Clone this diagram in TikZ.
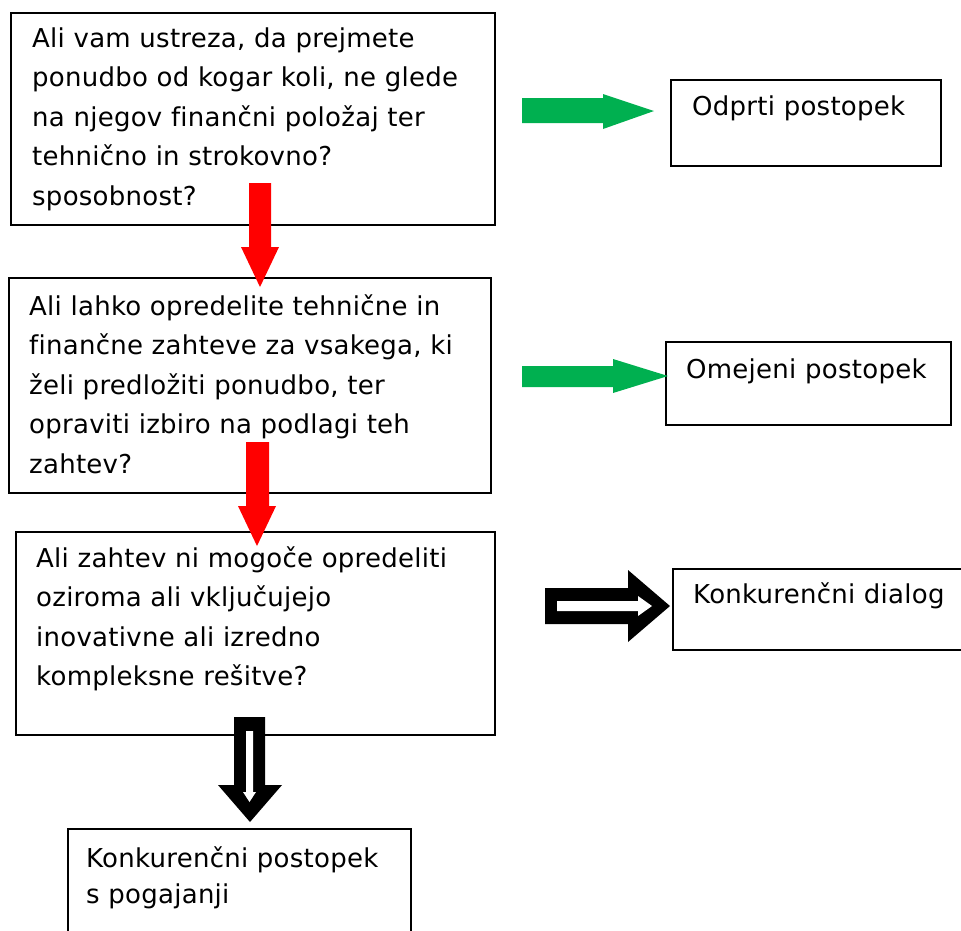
\documentclass[tikz,border=0pt]{standalone}
\usepackage{fontspec}
\setmainfont{DejaVu Sans}[LetterSpace=1.0,Ligatures=NoCommon]
\definecolor{okgreen}{HTML}{00B050}
\definecolor{alertred}{HTML}{FF0000}
\begin{document}
\begin{tikzpicture}[x=1pt,y=-1pt,
  box/.style={draw=black,line width=1.8pt,inner sep=0pt,anchor=north west},
  txt/.style={inner sep=0pt,anchor=base west,align=left,text width=470pt,
    font=\fontsize{26}{39.5}\selectfont},
  greenarrow/.style={fill=okgreen},
  redarrow/.style={fill=alertred}]
\useasboundingbox (0,0) rectangle (961,930);
\clip (0,0) rectangle (961,930);

% question boxes (left column)
\node[box,minimum width=484pt,minimum height=212pt] (q1) at (10,12) {};
\node[box,minimum width=482pt,minimum height=215pt] (q2) at (8,277) {};
\node[box,minimum width=479pt,minimum height=203pt] (q3) at (15,531) {};
\node[box,minimum width=343pt,minimum height=130pt] (r4) at (67,828) {};

% result boxes (right column)
\node[box,minimum width=270pt,minimum height=86pt] (r1) at (670,79) {};
\node[box,minimum width=285pt,minimum height=83pt] (r2) at (665,341) {};
\node[box,minimum width=300pt,minimum height=81pt] (r3) at (672,568) {};

% texts
\node[txt] (t1) at (32,47) {Ali vam ustreza, da prejmete\\ponudbo od kogar koli, ne glede\\na njegov finančni položaj ter\\tehnično in strokovno?\\sposobnost?};
\node[txt] (t2) at (29,315) {Ali lahko opredelite tehnične in\\finančne zahteve za vsakega, ki\\želi predložiti ponudbo, ter\\opraviti izbiro na podlagi teh\\zahtev?};
\node[txt] (t3) at (36,567) {Ali zahtev ni mogoče opredeliti\\oziroma ali vključujejo\\inovativne ali izredno\\kompleksne rešitve?};
\node[txt] (t4) at (86,867) {Konkurenčni postopek\\[-3pt]s pogajanji};
\node[txt] (tr1) at (692,115) {Odprti postopek};
\node[txt] (tr2) at (686,378) {Omejeni postopek};
\node[txt] (tr3) at (693,603) {Konkurenčni dialog};

% green block arrows
\fill[greenarrow] (522,98) -- (603,98) -- (603,94) -- (654,111) -- (603,129)
  -- (603,123) -- (522,123) -- cycle;
\fill[greenarrow] (522,366) -- (613,366) -- (613,359) -- (668,376) -- (613,393)
  -- (613,387) -- (522,387) -- cycle;

% red block arrows
\fill[redarrow] (249,183) -- (271,183) -- (271,247) -- (279,247) -- (260,287)
  -- (241,247) -- (249,247) -- cycle;
\fill[redarrow] (246,442) -- (269,442) -- (269,506) -- (276,506) -- (257,546)
  -- (238,506) -- (246,506) -- cycle;

% black outlined block arrow to the right
\fill[black] (545,588) -- (628,588) -- (628,570) -- (670,606) -- (628,642)
  -- (628,624) -- (545,624) -- cycle;
\fill[white] (557,601) -- (638,601) -- (638,596) -- (652,606) -- (638,616)
  -- (638,611) -- (557,611) -- cycle;

% black outlined block arrow downwards
\fill[black] (234,717) -- (265,717) -- (265,785) -- (282,785) -- (250,822)
  -- (218,785) -- (234,785) -- cycle;
\fill[white] (246,731) -- (253,731) -- (253,792) -- (256,792) -- (249.5,802)
  -- (243,792) -- (246,792) -- cycle;
\end{tikzpicture}
\end{document}
